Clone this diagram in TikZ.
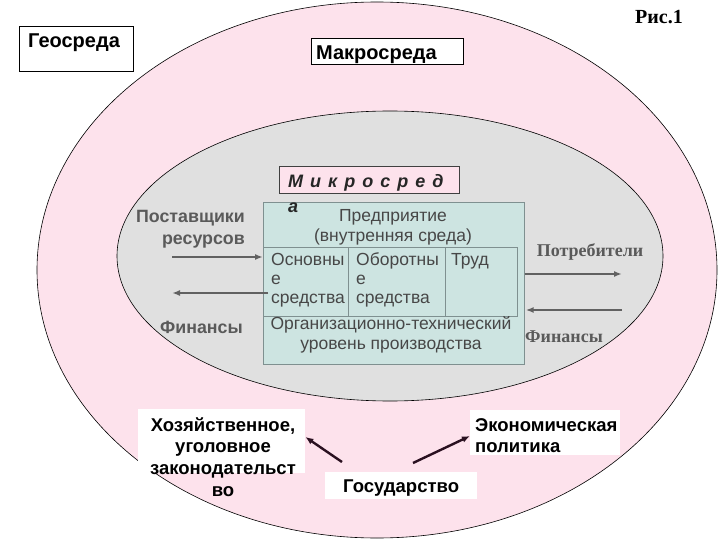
\documentclass[tikz,border=0pt]{standalone}
\usepackage{fontspec}
\setmainfont{Liberation Sans}
\newfontfamily\serifF{Liberation Serif}
\usetikzlibrary{arrows.meta}
\definecolor{pinkbg}{HTML}{FDE2EC}
\definecolor{greybg}{HTML}{E0E0E0}
\definecolor{tealbg}{HTML}{CDE4E1}
\definecolor{txtgray}{HTML}{5A5A5A}
\definecolor{boxline}{HTML}{7F9090}
\definecolor{darkarrow}{HTML}{2A1020}
\begin{document}
\begin{tikzpicture}[x=1pt,y=-1pt,
  whitebox/.style={draw=black,line width=0.7pt,fill=white,inner sep=0pt,anchor=north west},
  plainbox/.style={fill=white,inner sep=0pt,anchor=north west},
  bsans/.style={inner sep=0pt,font=\fontsize{18.5}{21.7}\selectfont\bfseries},
  inbox/.style={inner sep=0pt,text=black!72,font=\fontsize{17.5}{19}\selectfont},
  grayarrow/.style={draw=black!62,line width=2.6pt,-{Latex[length=8pt,width=6pt]}},
  darkarr/.style={draw=darkarrow,line width=2.4pt,-{Latex[length=8pt,width=6.5pt]}}
]
\useasboundingbox (0,0) rectangle (720,540);
\fill[white] (0,0) rectangle (720,540);
% environments
\draw[fill=pinkbg,line width=0.6pt] (377,270) ellipse [x radius=340,y radius=268];
\draw[fill=greybg,line width=0.6pt] (390,256) ellipse [x radius=273,y radius=145];
% title
\node[inner sep=0pt,font=\serifF\fontsize{20}{22}\selectfont\bfseries] (fig) at (659,17) {Рис.1};
% Geo
\node[whitebox,minimum width=114pt,minimum height=45pt] (geo) at (19,26) {};
\node[bsans,font=\fontsize{20}{22}\selectfont\bfseries,anchor=west] (geot) at (28,43) {Геосреда};
% Macro
\node[whitebox,minimum width=152pt,minimum height=26pt] (macro) at (311,38) {};
\node[bsans,font=\fontsize{20}{22}\selectfont\bfseries,anchor=west] (macrot) at (316,55) {Макросреда};
% enterprise box
\node[draw=boxline,line width=0.7pt,fill=tealbg,inner sep=0pt,anchor=north west,
      minimum width=261pt,minimum height=162pt] (ent) at (263,202) {};
\draw[boxline,line width=0.7pt] (263,247) -- (517,247) -- (517,316) -- (263,316);
\draw[boxline,line width=0.7pt] (348,247) -- (348,316) (445,247) -- (445,316);
% micro box
\node[draw=black!75,line width=0.7pt,fill=pinkbg,inner sep=0pt,anchor=north west,
      minimum width=180pt,minimum height=27pt] (micro) at (279,166) {};
\node[inner sep=0pt,anchor=north west,align=left,text=black!85,
      font=\fontsize{18}{25}\selectfont\bfseries\itshape] (microt) at (288,174.5)
  {М\hspace{7pt}и\hspace{7pt}к\hspace{7pt}р\hspace{7pt}о\hspace{7pt}с\hspace{7pt}р\hspace{7pt}е\hspace{7pt}д\\а};
% enterprise texts
\node[inbox,align=center,font=\fontsize{17.5}{20}\selectfont] (entt) at (393,227) {Предприятие\\(внутренняя среда)};
\node[inbox,anchor=north west,align=left] (c1) at (271,252) {\vphantom{Об}Основны\\е\\средства};
\node[inbox,anchor=north west,align=left] (c2) at (356,252) {\vphantom{Об}Оборотны\\е\\средства};
\node[inbox,anchor=north west,align=left] (c3) at (451,252) {\vphantom{Об}Труд};
\node[inbox,align=center,font=\fontsize{17.5}{20}\selectfont] (org) at (391,335) {Организационно-технический\\уровень производства};
% left side
\node[bsans,text=txtgray,align=right,anchor=east,font=\fontsize{17.8}{22}\selectfont\bfseries] (supp) at (245,229) {Поставщики\\ресурсов};
\node[bsans,text=txtgray,anchor=east,font=\fontsize{17.8}{22}\selectfont\bfseries] (finl) at (243,327) {Финансы};
\coordinate (a1s) at (172,257);
\coordinate (a2s) at (268,293);
\coordinate (a2e) at (172,293);
\draw[grayarrow] (a1s) -- (a1s -| ent.west);
\draw[grayarrow] (a2s) -- (a2e);
% right side
\node[inner sep=0pt,text=txtgray,font=\serifF\fontsize{18}{20}\selectfont\bfseries] (cons) at (590,252) {Потребители};
\node[inner sep=0pt,text=txtgray,font=\serifF\fontsize{18}{20}\selectfont\bfseries] (finr) at (564,337) {Финансы};
\coordinate (a3e) at (622,274);
\coordinate (a4s) at (622,310);
\draw[grayarrow] (ent.east |- a3e) -- (a3e);
\draw[grayarrow] (a4s) -- ([xshift=1pt]ent.east |- a4s);
% bottom
\node[plainbox,minimum width=167pt,minimum height=64pt] (lawbox) at (138,409) {};
\node[bsans,align=center] (law) at (223,457) {Хозяйственное,\\уголовное\\законодательст\\во};
\node[plainbox,minimum width=152pt,minimum height=27pt] (statebox) at (325,472) {};
\node[bsans,anchor=west] (state) at (343,488) {Государство};
\node[plainbox,minimum width=150pt,minimum height=45pt] (polbox) at (470,410) {};
\node[bsans,align=left,anchor=west] (pol) at (475,435.5) {Экономическая\\политика};
\coordinate (d1) at (342,462);
\coordinate (d2) at (413,463);
\draw[darkarr] (d1) -- (lawbox.east |- 0,437);
\draw[darkarr] (d2) -- (polbox.west |- 0,436);
\end{tikzpicture}
\end{document}
